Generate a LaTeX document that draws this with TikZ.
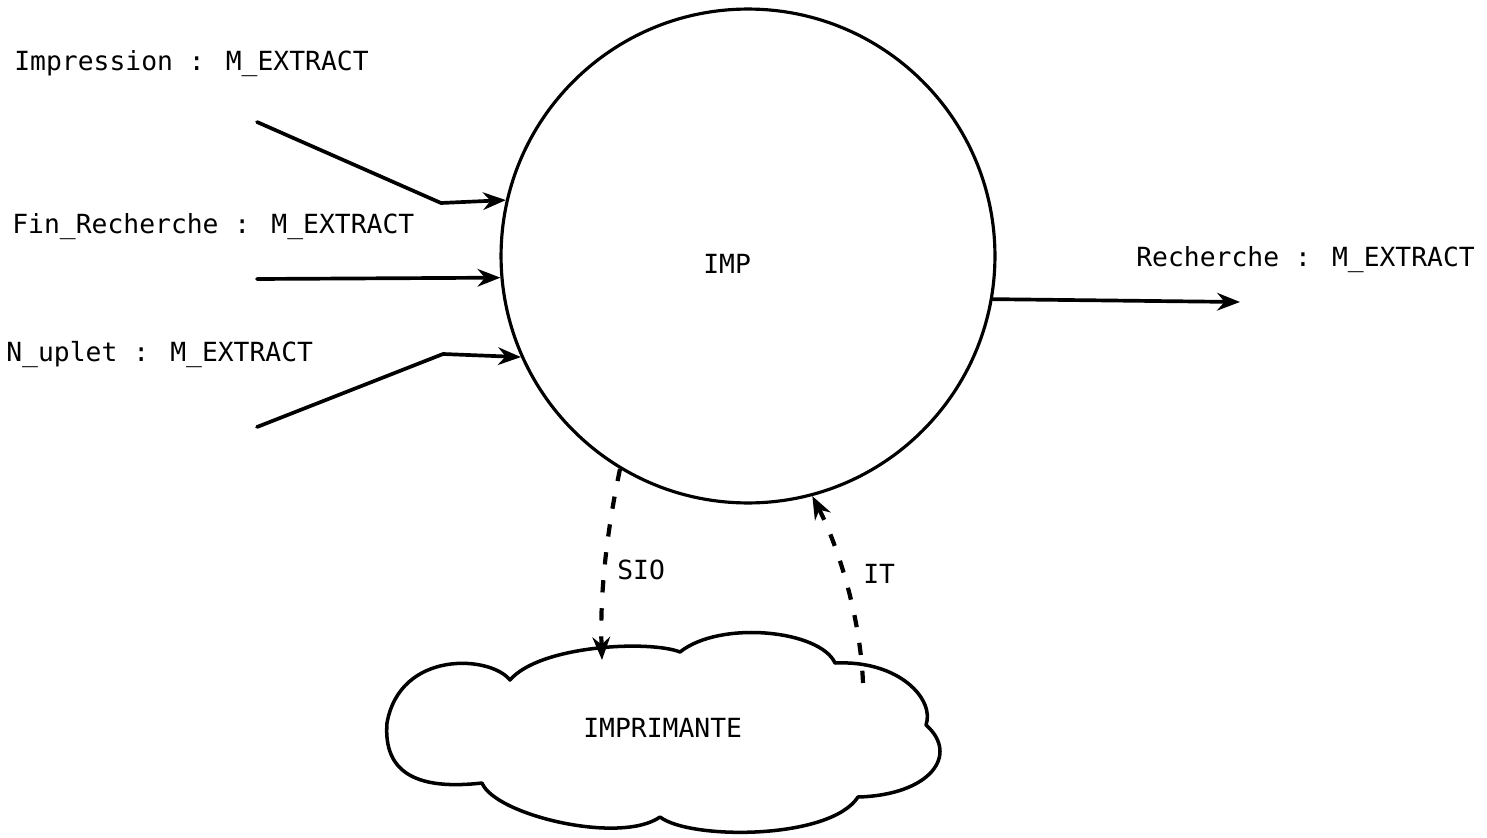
\documentclass[tikz,border=0pt]{standalone}
\usepackage{fontspec}
\newfontfamily\dotfont{DejaVu Sans Mono}
\usetikzlibrary{arrows.meta}
\tikzset{
  lbl/.style={font=\dotfont\fontsize{15pt}{18pt}\selectfont, inner sep=0pt, anchor=base west},
  flow/.style={line width=2.1pt, line cap=round, line join=round, -{Stealth[length=13pt,width=10pt]}},
  sig/.style={line width=2.4pt, dash pattern=on 7pt off 9pt, -{Stealth[length=13pt,width=10pt]}},
  proc/.style={circle, draw, line width=1.8pt, minimum size=9.88cm, inner sep=0pt},
  cloudline/.style={line width=2pt, line join=round}
}
\begin{document}
\begin{tikzpicture}[x=0.02cm,y=-0.02cm]
\useasboundingbox (0,0) rectangle (1487,838);

% process circle
\node[proc] (imp) at (748,256) {};
\node[lbl] (imptext) at (703,273) {IMP};

% labels
\node[lbl] (limpr) at (14,71) {Impression : M\_EXTRACT};
\node[lbl] (lfin) at (12,233) {Fin\_Recherche : M\_EXTRACT};
\node[lbl] (lnup) at (6,361) {N\_uplet : M\_EXTRACT};
\node[lbl] (lrech) at (1136,266) {Recherche : M\_EXTRACT};

% input flows
\coordinate (s1) at (257,122);
\coordinate (b1) at (441,203);
\coordinate (s2) at (257,279);
\coordinate (s3) at (257,427);
\coordinate (b3) at (443,354);
\draw[flow] (s1) -- (b1) -- (imp.167.6);
\draw[flow] (s2) -- (imp.185.4);
\draw[flow] (s3) -- (b3) -- (imp.204);

% output flow
\coordinate (e4) at (1240,302);
\draw[flow] (imp.350.5) -- (e4);

% cloud (terminator)
\draw[cloudline] (510,680)
  .. controls (490,655) and (400,650) .. (387,723)
  .. controls (383,775) and (420,790) .. (482,783)
  .. controls (495,815) and (620,845) .. (660,817)
  .. controls (690,840) and (830,840) .. (858,797)
  .. controls (930,795) and (960,755) .. (926,725)
  .. controls (935,700) and (900,660) .. (835,663)
  .. controls (820,630) and (720,620) .. (680,652)
  .. controls (650,640) and (540,645) .. (510,680) -- cycle;
\node[lbl] (cloudtext) at (583,737) {IMPRIMANTE};
\coordinate (cin) at (602,660);
\coordinate (cout) at (863,683);

% signals
\draw[sig] (imp.239) .. controls (605,540) and (600,600) .. (cin);
\draw[sig] (cout) .. controls (860,610) and (835,540) .. (imp.285.2);
\node[lbl] (lsio) at (617,579) {SIO};
\node[lbl] (lit) at (863,583) {IT};
\end{tikzpicture}
\end{document}
